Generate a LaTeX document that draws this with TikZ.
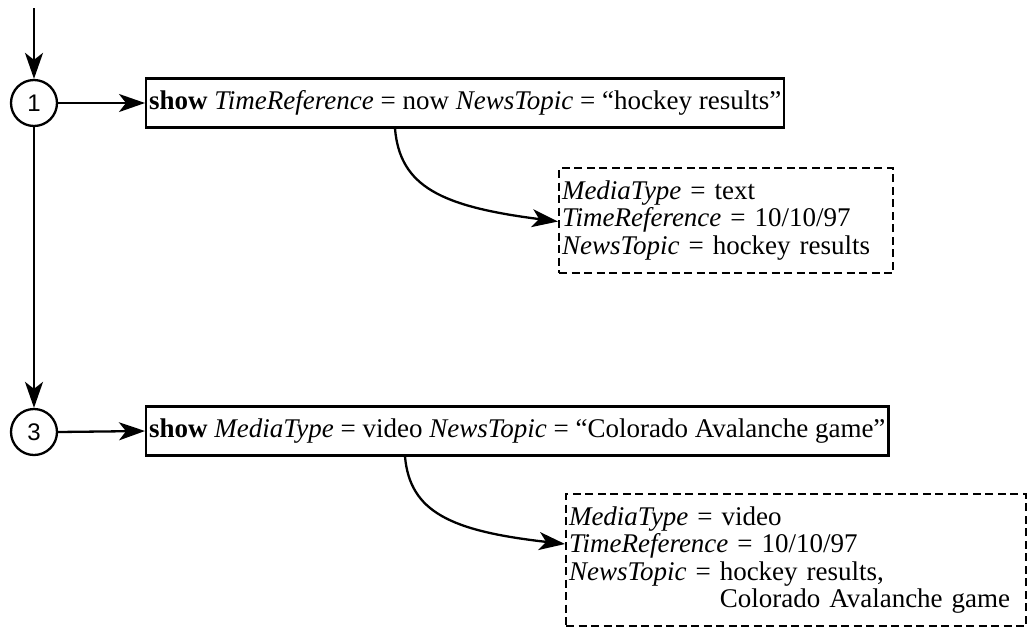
\documentclass[tikz,border=0pt]{standalone}
\usepackage{fontspec}
\setmainfont{Liberation Serif}
\newfontfamily\digitfont{Liberation Sans}
\usetikzlibrary{arrows.meta}
\begin{document}
\begin{tikzpicture}[x=1pt,y=-1pt,line width=2.3pt,
  arr/.style={-{Stealth[length=26pt,width=18pt,inset=7pt]}},
  statenode/.style={circle,draw,minimum size=46pt,inner sep=0pt,
    font=\digitfont\fontsize{24}{26}\selectfont},
  cmdbox/.style={draw,anchor=west,inner xsep=3pt,minimum height=49pt,
    font=\fontsize{27}{29}\selectfont},
  infobox/.style={draw,line width=2pt,dash pattern=on 8pt off 4.5pt,anchor=north west,
    align=left,inner xsep=3pt,font=\fontsize{27}{27.5}\selectfont}]
\useasboundingbox (0,0) rectangle (1027,627);

% entry point and the two states
\coordinate (start) at (34,8);
\node[statenode] (s1) at (34,103) {1};
\node[statenode] (s3) at (34,432) {3};

% commands issued in each state
\node[cmdbox] (c1) at (145,103)
  {\textbf{show} \textit{TimeReference} = now \textit{NewsTopic} = “hockey results”};
\node[cmdbox] (c3) at (145,431)
  {\textbf{show} \textit{MediaType} = video \textit{NewsTopic} = “Colorado Avalanche game”};

% resulting context
\node[infobox,text width=328pt,minimum height=105pt] (i1) at (558,167)
  {\textit{MediaType} = text\\
   \textit{TimeReference} = 10/10/97\\
   \textit{NewsTopic} = hockey results};
\node[infobox,text width=454pt,minimum height=132pt] (i3) at (565,493)
  {\textit{MediaType} = video\\
   \textit{TimeReference} = 10/10/97\\
   \textit{NewsTopic} = hockey results,\\
   \phantom{\textit{NewsTopic} = }Colorado Avalanche game};

\coordinate (t1) at ([yshift=-1pt]i1.west);
\coordinate (t3) at ([yshift=16pt]i3.west);

% flow between states
\draw[arr] (start) -- (s1.north);
\draw[arr] (s1.south) -- (s3.north);
\draw[arr] (s1.east) -- (c1.west);
\draw[arr] (s3.east) -- (c3.west);

% effect of each command on the context
\draw[arr] ([xshift=250pt]c1.south west) .. controls +(5,58) and +(-117,-15) .. (t1);
\draw[arr] ([xshift=260pt]c3.south west) .. controls +(5,55) and +(-115,-13) .. (t3);
\end{tikzpicture}
\end{document}
